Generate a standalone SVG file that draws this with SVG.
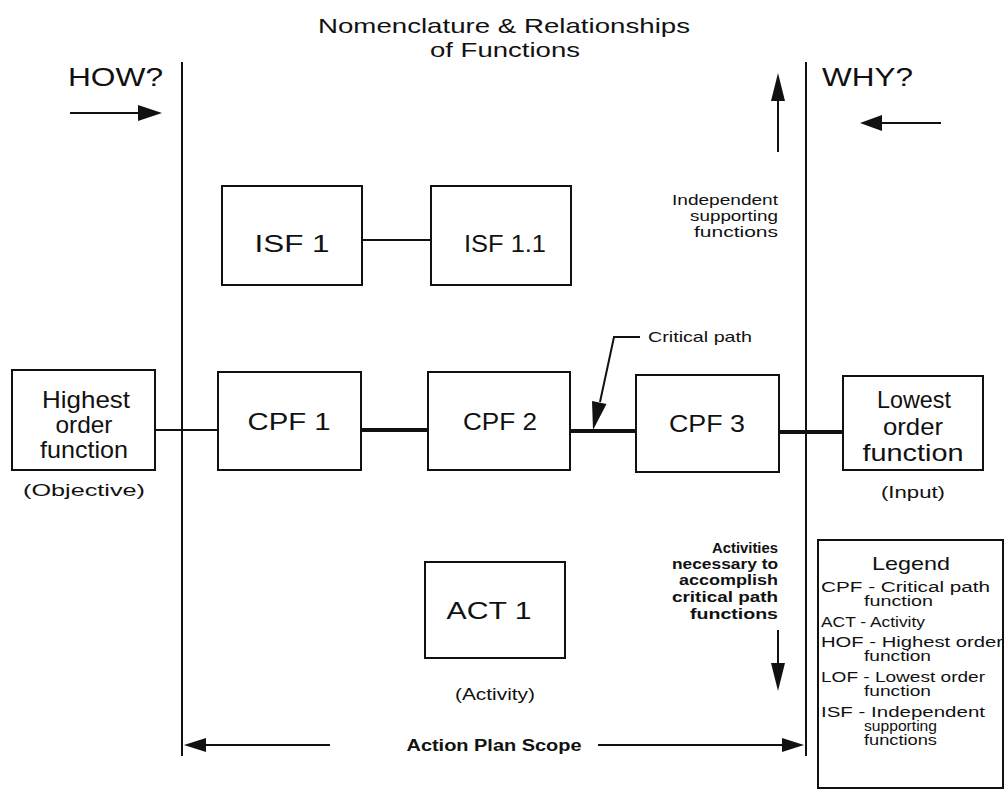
<svg xmlns="http://www.w3.org/2000/svg" width="1008" height="794" viewBox="0 0 1008 794">
<defs>
<style>
text{font-family:"Liberation Sans",Arial,sans-serif;fill:#111}
.box{fill:#fff;stroke:#111;stroke-width:2}
.t{font-size:24px;text-anchor:middle}
.s{font-size:15px}
.p{font-size:17px;text-anchor:middle}
.ln{stroke:#111;stroke-width:2;fill:none}
.thick{stroke:#111;stroke-width:4;fill:none}
.hd{fill:#111;stroke:none}
.lg{font-size:14px}
</style>
</defs>
<rect width="1008" height="794" fill="#fff"/>

<g id="title">
<text x="504" y="33" font-size="21" text-anchor="middle" textLength="372" lengthAdjust="spacingAndGlyphs">Nomenclature &amp; Relationships</text>
<text x="505" y="57" font-size="21" text-anchor="middle" textLength="150" lengthAdjust="spacingAndGlyphs">of Functions</text>
</g>

<g id="how">
<text x="68" y="86" font-size="25" textLength="95" lengthAdjust="spacingAndGlyphs">HOW?</text>
</g>
<g id="why">
<text x="822" y="86" font-size="25" textLength="91" lengthAdjust="spacingAndGlyphs">WHY?</text>
</g>

<g id="connectors">
<line class="ln" x1="70" y1="113" x2="140" y2="113" stroke-width="3"/>
<polygon class="hd" points="138,105 162,113 138,121"/>
<line class="ln" x1="941" y1="123" x2="880" y2="123" stroke-width="3"/>
<polygon class="hd" points="882,115 860,123 882,131"/>
<line class="ln" x1="182" y1="62" x2="182" y2="756" stroke-width="1.5"/>
<line class="ln" x1="806" y1="62" x2="806" y2="756" stroke-width="1.5"/>
<line class="ln" x1="778" y1="152" x2="778" y2="98" stroke-width="2"/>
<polygon class="hd" points="771,101 778,73 785,101"/>
<line class="ln" x1="778" y1="630" x2="778" y2="666" stroke-width="2"/>
<polygon class="hd" points="771,663 778,691 785,663"/>
<line class="ln" x1="362" y1="240" x2="431" y2="240"/>
<line class="ln" x1="155" y1="430" x2="218" y2="430" stroke-width="3"/>
<line class="thick" x1="361" y1="430" x2="428" y2="430"/>
<line class="thick" x1="570" y1="431" x2="636" y2="431"/>
<line class="thick" x1="779" y1="432" x2="843" y2="432"/>
<polyline class="ln" points="640,337 614,337 600,402"/>
<polygon class="hd" points="606.5,404 592,401 593,430"/>
<line class="ln" x1="330" y1="745" x2="204" y2="745" stroke-width="2.5"/>
<polygon class="hd" points="206,738 184,745 206,752"/>
<line class="ln" x1="598" y1="745" x2="784" y2="745" stroke-width="2.5"/>
<polygon class="hd" points="782,738 804,745 782,752"/>
</g>

<g id="isf1">
<rect class="box" x="222" y="186" width="140" height="99"/>
<text class="t" x="292" y="252" textLength="75" lengthAdjust="spacingAndGlyphs">ISF 1</text>
</g>
<g id="isf11">
<rect class="box" x="431" y="186" width="140" height="99"/>
<text class="t" x="505" y="252" textLength="82" lengthAdjust="spacingAndGlyphs">ISF 1.1</text>
</g>

<g id="hof">
<rect class="box" x="12" y="370" width="143" height="100"/>
<text class="t" x="86" y="408" textLength="88" lengthAdjust="spacingAndGlyphs">Highest</text>
<text class="t" x="84" y="433" textLength="57" lengthAdjust="spacingAndGlyphs">order</text>
<text class="t" x="84" y="458" textLength="88" lengthAdjust="spacingAndGlyphs">function</text>
<text class="p" x="84" y="496" textLength="122" lengthAdjust="spacingAndGlyphs">(Objective)</text>
</g>
<g id="cpf1">
<rect class="box" x="218" y="372" width="143" height="98"/>
<text class="t" x="289" y="430" textLength="83" lengthAdjust="spacingAndGlyphs">CPF 1</text>
</g>
<g id="cpf2">
<rect class="box" x="428" y="372" width="142" height="98"/>
<text class="t" x="500" y="430" textLength="74" lengthAdjust="spacingAndGlyphs">CPF 2</text>
</g>
<g id="cpf3">
<rect class="box" x="636" y="375" width="143" height="97"/>
<text class="t" x="707" y="432" textLength="76" lengthAdjust="spacingAndGlyphs">CPF 3</text>
</g>
<g id="lof">
<rect class="box" x="843" y="376" width="140" height="94"/>
<text class="t" x="914" y="408" textLength="74" lengthAdjust="spacingAndGlyphs">Lowest</text>
<text class="t" x="913" y="435" textLength="60" lengthAdjust="spacingAndGlyphs">order</text>
<text class="t" x="913" y="461" textLength="101" lengthAdjust="spacingAndGlyphs">function</text>
<text class="p" x="913" y="498" textLength="64" lengthAdjust="spacingAndGlyphs">(Input)</text>
</g>
<g id="act1">
<rect class="box" x="425" y="562" width="140" height="96"/>
<text class="t" x="489" y="619" textLength="85" lengthAdjust="spacingAndGlyphs">ACT 1</text>
<text class="p" x="495" y="700" textLength="80" lengthAdjust="spacingAndGlyphs">(Activity)</text>
</g>

<g id="isf-label">
<text class="s" x="778" y="205" text-anchor="end" textLength="106" lengthAdjust="spacingAndGlyphs">Independent</text>
<text class="s" x="778" y="221" text-anchor="end" textLength="88" lengthAdjust="spacingAndGlyphs">supporting</text>
<text class="s" x="778" y="237" text-anchor="end" textLength="84" lengthAdjust="spacingAndGlyphs">functions</text>
</g>
<g id="cp-label">
<text class="s" x="648" y="342" textLength="104" lengthAdjust="spacingAndGlyphs">Critical path</text>
</g>
<g id="act-label">
<text class="s" x="778" y="553" text-anchor="end" font-weight="bold" textLength="66" lengthAdjust="spacingAndGlyphs">Activities</text>
<text class="s" x="778" y="569" text-anchor="end" font-weight="bold" textLength="106" lengthAdjust="spacingAndGlyphs">necessary to</text>
<text class="s" x="778" y="585" text-anchor="end" font-weight="bold" textLength="99" lengthAdjust="spacingAndGlyphs">accomplish</text>
<text class="s" x="778" y="602" text-anchor="end" font-weight="bold" textLength="106" lengthAdjust="spacingAndGlyphs">critical path</text>
<text class="s" x="778" y="619" text-anchor="end" font-weight="bold" textLength="88" lengthAdjust="spacingAndGlyphs">functions</text>
</g>
<g id="scope">
<text x="494" y="751" font-size="16" font-weight="bold" text-anchor="middle" textLength="175" lengthAdjust="spacingAndGlyphs">Action Plan Scope</text>
</g>

<g id="legend">
<rect class="box" x="818" y="540" width="185" height="248"/>
<text x="911" y="570" font-size="19" text-anchor="middle" textLength="78" lengthAdjust="spacingAndGlyphs">Legend</text>
<text class="lg" x="821" y="592" textLength="169" lengthAdjust="spacingAndGlyphs">CPF - Critical path</text>
<text class="lg" x="864" y="606" textLength="69" lengthAdjust="spacingAndGlyphs">function</text>
<text class="lg" x="821" y="627" textLength="104" lengthAdjust="spacingAndGlyphs">ACT - Activity</text>
<text class="lg" x="821" y="647" textLength="182" lengthAdjust="spacingAndGlyphs">HOF - Highest order</text>
<text class="lg" x="864" y="661" textLength="67" lengthAdjust="spacingAndGlyphs">function</text>
<text class="lg" x="821" y="682" textLength="164" lengthAdjust="spacingAndGlyphs">LOF - Lowest order</text>
<text class="lg" x="864" y="696" textLength="67" lengthAdjust="spacingAndGlyphs">function</text>
<text class="lg" x="821" y="717" textLength="164" lengthAdjust="spacingAndGlyphs">ISF - Independent</text>
<text class="lg" x="864" y="731" textLength="73" lengthAdjust="spacingAndGlyphs">supporting</text>
<text class="lg" x="864" y="745" textLength="73" lengthAdjust="spacingAndGlyphs">functions</text>
</g>
</svg>
